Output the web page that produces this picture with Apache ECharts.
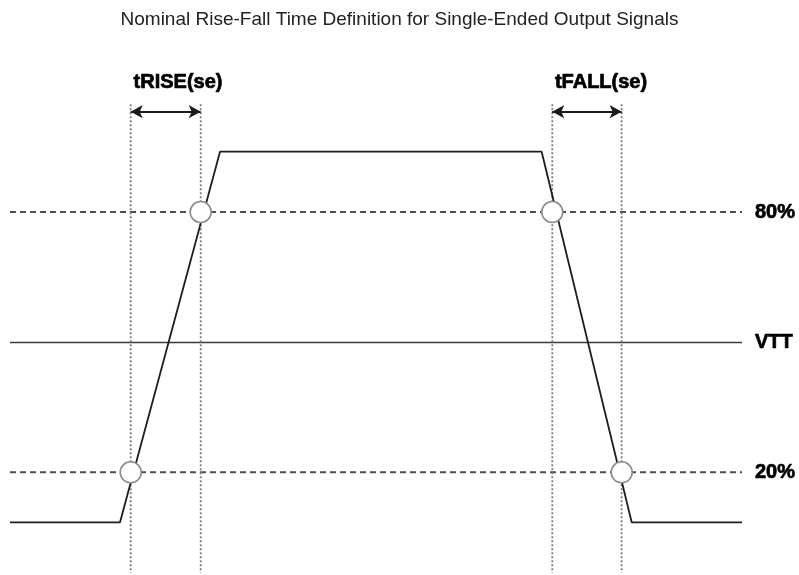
<!DOCTYPE html>
<html>
<head>
<meta charset="utf-8">
<script src="https://cdn.jsdelivr.net/npm/echarts@6/dist/echarts.min.js"></script>
<style>
html,body{margin:0;padding:0;background:#fff;}
#chart{width:799px;height:575px;}
</style>
</head>
<body>
<div id="chart"></div>
<script>
// ---- data (time units 0..100, level units: low=0, high=100) ----
const waveTime = [0, 15.03, 28.69, 72.63, 84.93, 100];
const waveLevel = [0, 0, 100, 100, 0, 0];

const levelNames = ['80%', 'VTT', '20%'];
const levelValues = [83.73, 48.51, 13.49];

const edgeNames = ['tRISE(se)', 'tFALL(se)'];
const edgeStart = [16.49, 74.08];
const edgeEnd = [26.05, 83.56];
const edgeLabelTime = [22.95, 80.74];

const markerTop = 112.8;
const markerBottom = -13.6;
const arrowLevel = 110.8;
const edgeLabelLevel = 118.8;

// crossing points (vertical marker x, threshold level)
const crossTime = [16.49, 26.05, 74.08, 83.56];
const crossLevel = [13.49, 83.73, 83.73, 13.49];

const chart = echarts.init(document.getElementById('chart'), null, {renderer: 'canvas'});

const series = [];
const boldLabel = {
  fontFamily: 'Liberation Sans, Arial, sans-serif', fontWeight: 'bold',
  fontSize: 20, color: '#000', textBorderColor: '#000', textBorderWidth: 0.7
};

// threshold lines
levelNames.forEach((n, i) => {
  const solid = n === 'VTT';
  series.push({
    type: 'line', symbol: 'none', clip: false, silent: true, z: 1,
    data: [[0, levelValues[i]], [100, levelValues[i]]],
    lineStyle: solid ? {color: '#3a3a3a', width: 1.6, type: 'solid'}
                     : {color: '#4f4f4f', width: 2, type: [6, 4]}
  });
});

// vertical dotted markers
edgeStart.concat(edgeEnd).forEach(t => {
  series.push({
    type: 'line', symbol: 'none', clip: false, silent: true, z: 1,
    data: [[t, markerTop], [t, markerBottom]],
    lineStyle: {color: '#7a7a7a', width: 1.8, type: [2, 2]}
  });
});

// waveform
series.push({
  type: 'line', symbol: 'none', clip: false, silent: true, z: 3,
  data: waveTime.map((t, i) => [t, waveLevel[i]]),
  lineStyle: {color: '#1e1e1e', width: 1.8}
});

// crossing circles
series.push({
  type: 'scatter', clip: false, silent: true, z: 5,
  symbol: 'circle', symbolSize: 21,
  data: crossTime.map((t, i) => [t, crossLevel[i]]),
  itemStyle: {color: '#ffffff', borderColor: '#8c8c8c', borderWidth: 1.6, opacity: 1}
});

// arrows + edge labels
series.push({
  type: 'scatter', clip: false, silent: true, z: 6,
  symbolSize: 0,
  itemStyle: {opacity: 1},
  data: edgeNames.map((n, i) => ({name: n, value: [edgeLabelTime[i], edgeLabelLevel]})),
  label: Object.assign({show: true, position: 'inside', formatter: '{b}'}, boldLabel),
  markLine: {
    silent: true, symbol: ['arrow', 'arrow'], symbolSize: [10, 12],
    label: {show: false},
    lineStyle: {color: '#1a1a1a', width: 2, type: 'solid', opacity: 1},
    data: edgeNames.map((n, i) => [
      {coord: [edgeStart[i], arrowLevel]},
      {coord: [edgeEnd[i], arrowLevel]}
    ])
  }
});

// right-side level labels
series.push({
  type: 'scatter', clip: false, silent: true, z: 6,
  symbolSize: 0,
  itemStyle: {opacity: 1},
  data: levelNames.map((n, i) => ({name: n, value: [100, levelValues[i]]})),
  label: Object.assign({show: true, position: 'right', distance: 13, formatter: '{b}'}, boldLabel)
});

chart.setOption({
  animation: false,
  backgroundColor: '#ffffff',
  title: {
    text: 'Nominal Rise-Fall Time Definition for Single-Ended Output Signals',
    left: 'center', top: 5,
    textStyle: {fontFamily: 'Liberation Sans, Arial, sans-serif', fontWeight: 'normal', fontSize: 19, color: '#222'}
  },
  grid: {left: 10, right: 57, top: 0, bottom: 0},
  xAxis: {type: 'value', min: 0, max: 100, show: false},
  yAxis: {type: 'value', min: -14.22, max: 140.93, show: false},
  series: series
});
</script>
</body>
</html>
